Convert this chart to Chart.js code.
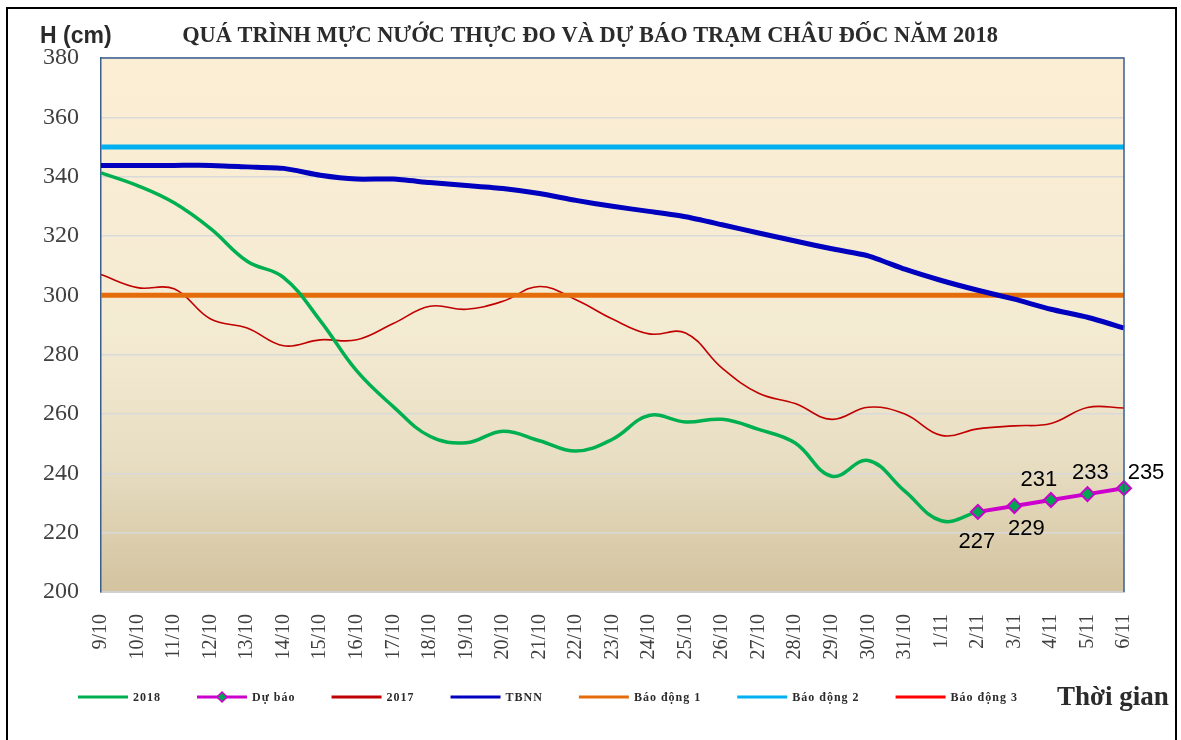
<!DOCTYPE html>
<html>
<head>
<meta charset="utf-8">
<title>Mực nước trạm Châu Đốc 2018</title>
<script src="https://cdn.jsdelivr.net/npm/chart.js@4.4.0/dist/chart.umd.min.js"></script>
<style>
    html, body { margin: 0; padding: 0; background: #ffffff; }
    #wrap { width: 1181px; height: 740px; }
</style>
</head>
<body>
<div id="wrap"><canvas id="chauDoc" width="1181" height="740"></canvas></div>
<script>
// Ngày (trục hoành)
var labels = ['9/10', '10/10', '11/10', '12/10', '13/10', '14/10', '15/10', '16/10', '17/10', '18/10',
    '19/10', '20/10', '21/10', '22/10', '23/10', '24/10', '25/10', '26/10', '27/10', '28/10',
    '29/10', '30/10', '31/10', '1/11', '2/11', '3/11', '4/11', '5/11', '6/11'];

// Mực nước thực đo 2018 (cm)
var h2018 = [341.3, 337, 331.2, 322.5, 311.5, 306, 291.5, 274.5, 262.5, 252.5,
    250.3, 254.2, 251, 247.5, 251.5, 259.5, 257.3, 258.2, 254.8, 250.2,
    239, 244.3, 234, 224, 227, null, null, null, null];

// Dự báo
var duBao = [null, null, null, null, null, null, null, null, null, null,
    null, null, null, null, null, null, null, null, null, null,
    null, null, null, null, 227, 229, 231, 233, 235];

// Năm 2017
var h2017 = [307, 302.6, 302.2, 292, 289, 283, 285, 285, 290.5, 296.3,
    295.3, 298, 303, 298.5, 292, 287, 287.3, 275.5, 267, 263.5,
    258.2, 262.3, 260, 252.8, 255, 256, 256.8, 262.2, 262];

// Trung bình nhiều năm
var tbnn = [343.8, 343.8, 343.8, 343.8, 343.3, 342.8, 340.5, 339.2, 339.2, 338,
    337, 336, 334.3, 332, 330, 328.3, 326.5, 323.8, 321, 318.3,
    315.7, 313.3, 308.8, 305, 301.7, 298.7, 295.3, 292.6, 289];

// Mức báo động (cm)
var baoDong1 = 300;
var baoDong2 = 350;
var baoDong3 = 400;

// Trục tung
var yMin = 200;
var yMax = 380;
var yStep = 20;

// Vị trí nhãn dự báo so với điểm [dx, dy]
var labelOffsets = [[-1, 30], [12, 23], [-12, -20], [3, -21], [22, -15]];

function levelLine(value) {
    return [{ x: labels[0], y: value }, { x: labels[labels.length - 1], y: value }];
}

// Nền vùng vẽ
var plotBackground = {
    id: 'plotBackground',
    beforeDraw: function (chart) {
        var ctx = chart.ctx;
        var a = chart.chartArea;
        ctx.save();
        ctx.fillStyle = '#ffffff';
        ctx.fillRect(0, 0, chart.width, chart.height);
        var g = ctx.createLinearGradient(0, a.top, 0, a.bottom);
        g.addColorStop(0, '#FCEED4');
        g.addColorStop(0.5, '#F4EBD3');
        g.addColorStop(0.75, '#E8DEC3');
        g.addColorStop(1, '#D3C39F');
        ctx.fillStyle = g;
        ctx.fillRect(a.left, a.top, a.right - a.left, a.bottom - a.top);
        ctx.restore();
    }
};

// Nhãn giá trị dự báo
var forecastLabels = {
    id: 'forecastLabels',
    afterDatasetsDraw: function (chart) {
        var ctx = chart.ctx;
        var meta = chart.getDatasetMeta(1);
        var k = 0;
        ctx.save();
        ctx.font = '22px "Liberation Sans", Arial, sans-serif';
        ctx.fillStyle = '#000000';
        ctx.textAlign = 'center';
        ctx.textBaseline = 'middle';
        for (var i = 0; i < duBao.length; i++) {
            if (duBao[i] === null) continue;
            var pt = meta.data[i];
            var off = labelOffsets[k] || [0, -20];
            ctx.fillText(String(duBao[i]), pt.x + off[0], pt.y + off[1]);
            k++;
        }
        ctx.restore();
    }
};

// Khung, tiêu đề, chú giải
var decorations = {
    id: 'decorations',
    afterDraw: function (chart) {
        var ctx = chart.ctx;
        var a = chart.chartArea;
        ctx.save();

        // viền vùng vẽ (trên, phải)
        ctx.strokeStyle = '#3A5F8F';
        ctx.lineWidth = 1.5;
        ctx.beginPath();
        ctx.moveTo(a.left, a.top);
        ctx.lineTo(a.right, a.top);
        ctx.lineTo(a.right, a.bottom);
        ctx.stroke();

        // khung ngoài
        ctx.strokeStyle = '#000000';
        ctx.lineWidth = 2;
        ctx.strokeRect(7, 8, 1169, 745);

        // tiêu đề
        ctx.fillStyle = '#2b2b2b';
        ctx.textBaseline = 'middle';
        ctx.textAlign = 'center';
        ctx.font = 'bold 22.4px "Liberation Serif", "Times New Roman", serif';
        ctx.fillText('QUÁ TRÌNH MỰC NƯỚC THỰC ĐO VÀ DỰ BÁO TRẠM CHÂU ĐỐC NĂM 2018', 590, 36);

        // tên trục tung
        ctx.textAlign = 'left';
        ctx.font = 'bold 23px "Liberation Sans", Arial, sans-serif';
        ctx.fillText('H (cm)', 40, 37);

        // tên trục hoành
        ctx.font = 'bold 27px "Liberation Serif", "Times New Roman", serif';
        ctx.fillText('Thời gian', 1057, 698);

        // chú giải
        var x = 78;
        var y = 697;
        ctx.font = 'bold 12px "Liberation Serif", "Times New Roman", serif';
        ctx.letterSpacing = '1px';
        chart.data.datasets.forEach(function (ds) {
            ctx.strokeStyle = ds.borderColor;
            ctx.lineWidth = 3;
            ctx.beginPath();
            ctx.moveTo(x, y);
            ctx.lineTo(x + 50, y);
            ctx.stroke();
            if (ds.pointRadius > 0) {
                ctx.fillStyle = ds.pointBackgroundColor;
                ctx.strokeStyle = ds.borderColor;
                ctx.lineWidth = 1.5;
                ctx.beginPath();
                ctx.moveTo(x + 25, y - 5);
                ctx.lineTo(x + 30, y);
                ctx.lineTo(x + 25, y + 5);
                ctx.lineTo(x + 20, y);
                ctx.closePath();
                ctx.fill();
                ctx.stroke();
            }
            ctx.fillStyle = '#2b2b2b';
            ctx.fillText(ds.label, x + 55, y + 1);
            x += 55 + ctx.measureText(ds.label).width + 36;
        });
        ctx.restore();
    }
};

function setupChart() {
    var ctx = document.getElementById('chauDoc');
    new Chart(ctx, {
        type: 'line',
        data: {
            labels: labels,
            datasets: [{
                label: '2018',
                data: h2018,
                borderColor: '#00B050',
                borderWidth: 3.5,
                pointRadius: 0,
                tension: 0.4,
                order: 1
            }, {
                label: 'Dự báo',
                data: duBao,
                borderColor: '#CC00CC',
                borderWidth: 4,
                pointStyle: 'rectRot',
                pointRadius: 7,
                pointBackgroundColor: '#00A651',
                pointBorderColor: '#CC00CC',
                pointBorderWidth: 2,
                tension: 0,
                order: 0
            }, {
                label: '2017',
                data: h2017,
                borderColor: '#C00000',
                borderWidth: 1.6,
                pointRadius: 0,
                tension: 0.4,
                order: 6
            }, {
                label: 'TBNN',
                data: tbnn,
                borderColor: '#0000BF',
                borderWidth: 5,
                pointRadius: 0,
                tension: 0.2,
                order: 2
            }, {
                label: 'Báo động 1',
                data: levelLine(baoDong1),
                borderColor: '#E46C0A',
                borderWidth: 5,
                pointRadius: 0,
                order: 3
            }, {
                label: 'Báo động 2',
                data: levelLine(baoDong2),
                borderColor: '#00B0F0',
                borderWidth: 5,
                pointRadius: 0,
                order: 4
            }, {
                label: 'Báo động 3',
                data: levelLine(baoDong3),
                borderColor: '#FF0000',
                borderWidth: 3,
                pointRadius: 0,
                order: 5
            }]
        },
        options: {
            responsive: false,
            animation: false,
            events: [],
            layout: { padding: { top: 58, right: 57, bottom: 78, left: 0 } },
            plugins: {
                legend: { display: false },
                title: { display: false },
                tooltip: { enabled: false }
            },
            scales: {
                x: {
                    type: 'category',
                    grid: { display: true, drawOnChartArea: false, drawTicks: false },
                    border: { color: '#D0D0D0', width: 2 },
                    ticks: {
                        autoSkip: false,
                        minRotation: 90,
                        maxRotation: 90,
                        padding: 22,
                        color: '#404040',
                        font: { family: '"Liberation Serif", "Times New Roman", serif', size: 20 }
                    },
                    afterFit: function (scale) { scale.height = 70; }
                },
                y: {
                    min: yMin,
                    max: yMax,
                    grid: { color: '#D9D9D9', lineWidth: 1.5, drawTicks: false },
                    border: { color: '#3A5F8F', width: 1.5 },
                    ticks: {
                        stepSize: yStep,
                        padding: 22,
                        color: '#404040',
                        font: { family: '"Liberation Serif", "Times New Roman", serif', size: 24 }
                    },
                    afterFit: function (scale) { scale.width = 101; }
                }
            }
        },
        plugins: [plotBackground, forecastLabels, decorations]
    });
}

setupChart();
</script>
</body>
</html>
